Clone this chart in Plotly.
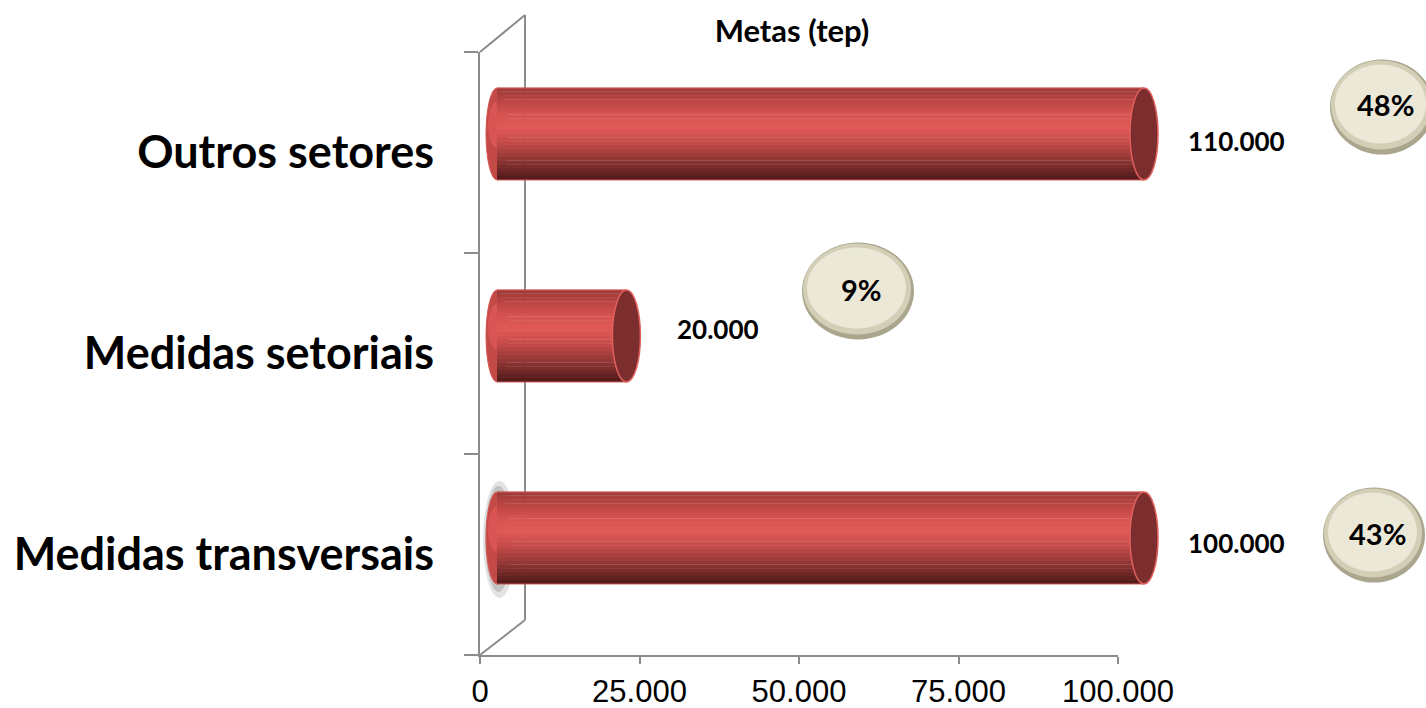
import plotly.graph_objects as go

# ---------------- data ----------------
categories = ["Medidas transversais", "Medidas setoriais", "Outros setores"]
values = [100000, 20000, 110000]
pct_labels = ["43%", "9%", "48%"]
x_tickvals = [0, 25000, 50000, 75000, 100000]
x_ticktext = ["0", "25.000", "50.000", "75.000", "100.000"]
title_text = "Metas (tep)"
XMAX = 100000

# ---------------- layout geometry (pixels) ----------------
W_FIG, H_FIG = 1426, 708
L, R_EDGE = 480, 1177          # plot area left/right
T, B_EDGE = 33, 655            # plot area top/bottom
PW, PH = R_EDGE - L, B_EDGE - T
MAIN_X_END = 1118              # pixel of 100.000 on front axis
MAIN_Y_TOP = 52
BAR_X0 = 497                   # pixel of 0 on bar (depth-shifted) axis
BAR_X100 = 1144                # pixel of 100.000 on bar axis
BAR_Y_BOTTOM = 639             # pixel of -0.5 on bar axis
LABEL_YSHIFT = [-5, 7, -7]     # small vertical nudges of value labels (px)


def px(xp):
    return (xp - L) / PW


def py(yp):
    return (B_EDGE - yp) / PH


SCALE2 = XMAX / (BAR_X100 - BAR_X0)          # data units per pixel on bar axis
X2_RANGE = [-(BAR_X0 - L) * SCALE2, (R_EDGE - BAR_X0) * SCALE2]

FONT_CAL = "Lato"
AX_COL = "#8c8c8c"

fig = go.Figure()

# invisible trace to establish categories on the front axis
fig.add_trace(go.Scatter(x=[0] * len(categories), y=categories, mode="markers",
                         marker=dict(opacity=0), hoverinfo="skip", showlegend=False,
                         xaxis="x", yaxis="y"))

shown = [min(v, XMAX) for v in values]
h = 0.2275


def hex2rgb(c):
    return tuple(int(c[i:i + 2], 16) for i in (1, 3, 5))


def mix(c1, c2, t):
    a, b = hex2rgb(c1), hex2rgb(c2)
    return "#%02x%02x%02x" % tuple(round(a[k] + (b[k] - a[k]) * t) for k in range(3))


# vertical colour profile of the cylinder (position -1 bottom .. +1 top)
stops = [(-1.0, "#4e1919"), (-0.6, "#8a3432"), (-0.2, "#c24a48"), (0.15, "#e05a58"),
         (0.45, "#d45250"), (0.8, "#b24240"), (1.0, "#9a3a38")]


def colour_at(p):
    for (p0, c0), (p1, c1) in zip(stops[:-1], stops[1:]):
        if p0 <= p <= p1:
            return mix(c0, c1, (p - p0) / (p1 - p0))
    return stops[-1][1]


N = 24
for k in range(N):
    lo = -1 + 2 * k / N
    hi = -1 + 2 * (k + 1) / N
    fig.add_trace(go.Bar(
        x=shown, y=categories, orientation="h", xaxis="x2", yaxis="y2",
        width=(hi - lo) * h + 0.002, offset=lo * h,
        marker=dict(color=colour_at((lo + hi) / 2), line=dict(width=0)),
        hoverinfo="skip", showlegend=False,
    ))

shapes = []
# 3D side wall
for (x0, y0, x1, y1) in [(525, 15, 525, 620), (480, 52, 525, 15), (480, 655, 525, 620)]:
    shapes.append(dict(type="line", xref="paper", yref="paper",
                       x0=px(x0), y0=py(y0), x1=px(x1), y1=py(y1),
                       line=dict(color=AX_COL, width=2), layer="below"))
# soft shadow near the lower bar's base
for (x0, x1, y0, y1, a) in [(483, 516, 598, 481, 0.18), (485, 512, 592, 486, 0.25),
                            (487, 508, 585, 493, 0.3)]:
    shapes.append(dict(type="circle", xref="paper", yref="paper",
                       x0=px(x0), x1=px(x1), y0=py(y0), y1=py(y1),
                       fillcolor=f"rgba(100,100,100,{a})", line=dict(width=0),
                       layer="below"))
# cylinder ends
for i, v in enumerate(shown):
    shapes.append(dict(type="circle", xref="x2", yref="y2", xsizemode="pixel",
                       xanchor=0, x0=-11, x1=11, y0=i - h, y1=i + h,
                       fillcolor="#c44a48", line=dict(color="#d65552", width=1),
                       layer="below"))
    shapes.append(dict(type="circle", xref="x2", yref="y2", xsizemode="pixel",
                       xanchor=0, x0=-9, x1=9, y0=i - 0.3 * h, y1=i + 0.7 * h,
                       fillcolor="#d85553", line=dict(width=0), layer="below"))
    shapes.append(dict(type="line", xref="x2", yref="y2", x0=0, x1=v,
                       y0=i + h, y1=i + h, line=dict(color="#d65552", width=1)))
    shapes.append(dict(type="line", xref="x2", yref="y2", x0=0, x1=v,
                       y0=i - h, y1=i - h, line=dict(color="#c85250", width=1)))
    shapes.append(dict(type="circle", xref="x2", yref="y2", xsizemode="pixel",
                       xanchor=v, x0=-14, x1=14, y0=i - h, y1=i + h,
                       fillcolor="#7b2e2d", line=dict(color="#e0605c", width=1.5),
                       layer="above"))

# percentage bubbles (centre px, width, height)
bubbles = [(1374, 535, 102, 95), (858, 291, 112, 97), (1382, 107, 104, 95)]
annotations = []
for (cx, cy, bw, bh), lab in zip(bubbles, pct_labels):
    shapes.append(dict(type="circle", xref="paper", yref="paper",
                       x0=px(cx - bw / 2), x1=px(cx + bw / 2),
                       y0=py(cy + bh / 2), y1=py(cy - bh / 2),
                       fillcolor="#aaa68d", line=dict(width=0)))
    shapes.append(dict(type="circle", xref="paper", yref="paper",
                       x0=px(cx - bw / 2 + 1), x1=px(cx + bw / 2 - 3),
                       y0=py(cy + bh / 2 - 5), y1=py(cy - bh / 2 + 1),
                       fillcolor="#d3cfb7", line=dict(width=0)))
    shapes.append(dict(type="circle", xref="paper", yref="paper",
                       x0=px(cx - bw / 2 + 5), x1=px(cx + bw / 2 - 8),
                       y0=py(cy + bh / 2 - 11), y1=py(cy - bh / 2 + 5),
                       fillcolor="#ebe8d7", line=dict(width=0)))
    annotations.append(dict(xref="paper", yref="paper", x=px(cx + 3), y=py(cy - 2),
                            xanchor="center", yanchor="middle",
                            text=f"<b>{lab}</b>", showarrow=False,
                            font=dict(family=FONT_CAL, size=29, color="black")))

# value labels
for i, (v, s) in enumerate(zip(values, shown)):
    annotations.append(dict(xref="x2", yref="y2", x=s, y=categories[i], xshift=92,
                            yshift=LABEL_YSHIFT[i],
                            xanchor="center", yanchor="middle",
                            text="<b>" + f"{v:,}".replace(",", ".") + "</b>",
                            showarrow=False,
                            font=dict(family=FONT_CAL, size=26, color="black")))

fig.update_layout(
    width=W_FIG, height=H_FIG,
    margin=dict(l=L, r=W_FIG - R_EDGE, t=T, b=H_FIG - B_EDGE, pad=0, autoexpand=False),
    paper_bgcolor="white", plot_bgcolor="rgba(0,0,0,0)",
    barmode="overlay", separators=",.",
    showlegend=False,
    title=dict(text=f"<b>{title_text}</b>", x=792 / W_FIG, xref="container",
               xanchor="center", y=1 - 31 / H_FIG, yref="container", yanchor="middle",
               font=dict(family=FONT_CAL, size=31, color="black")),
    xaxis=dict(domain=[0, px(MAIN_X_END)], range=[0, XMAX], anchor="y",
               tickvals=x_tickvals, ticktext=x_ticktext, automargin=False,
               showline=True, linecolor=AX_COL, linewidth=2,
               ticks="outside", ticklen=7, tickwidth=2, tickcolor=AX_COL,
               showgrid=False, zeroline=False, ticklabelstandoff=1,
               tickfont=dict(family="Liberation Sans", size=31, color="black")),
    yaxis=dict(domain=[0, py(MAIN_Y_TOP)], type="category",
               categoryorder="array", categoryarray=categories,
               range=[-0.5, len(categories) - 0.5], anchor="x", automargin=False,
               showline=True, linecolor=AX_COL, linewidth=2,
               ticks="outside", ticklen=14, tickwidth=2, tickcolor=AX_COL,
               tickson="boundaries", showgrid=False, zeroline=False,
               ticklabelstandoff=35,
               tickfont=dict(family=FONT_CAL, size=45, color="black"),
               tickprefix="<b>", ticksuffix="</b>"),
    xaxis2=dict(domain=[0, 1], range=X2_RANGE, anchor="y2",
                visible=False, showgrid=False, zeroline=False),
    yaxis2=dict(domain=[py(BAR_Y_BOTTOM), 1], type="category",
                categoryorder="array", categoryarray=categories,
                range=[-0.5, len(categories) - 0.5], anchor="x2",
                visible=False, showgrid=False, zeroline=False),
    shapes=shapes, annotations=annotations,
)

fig.write_html("out.html")
